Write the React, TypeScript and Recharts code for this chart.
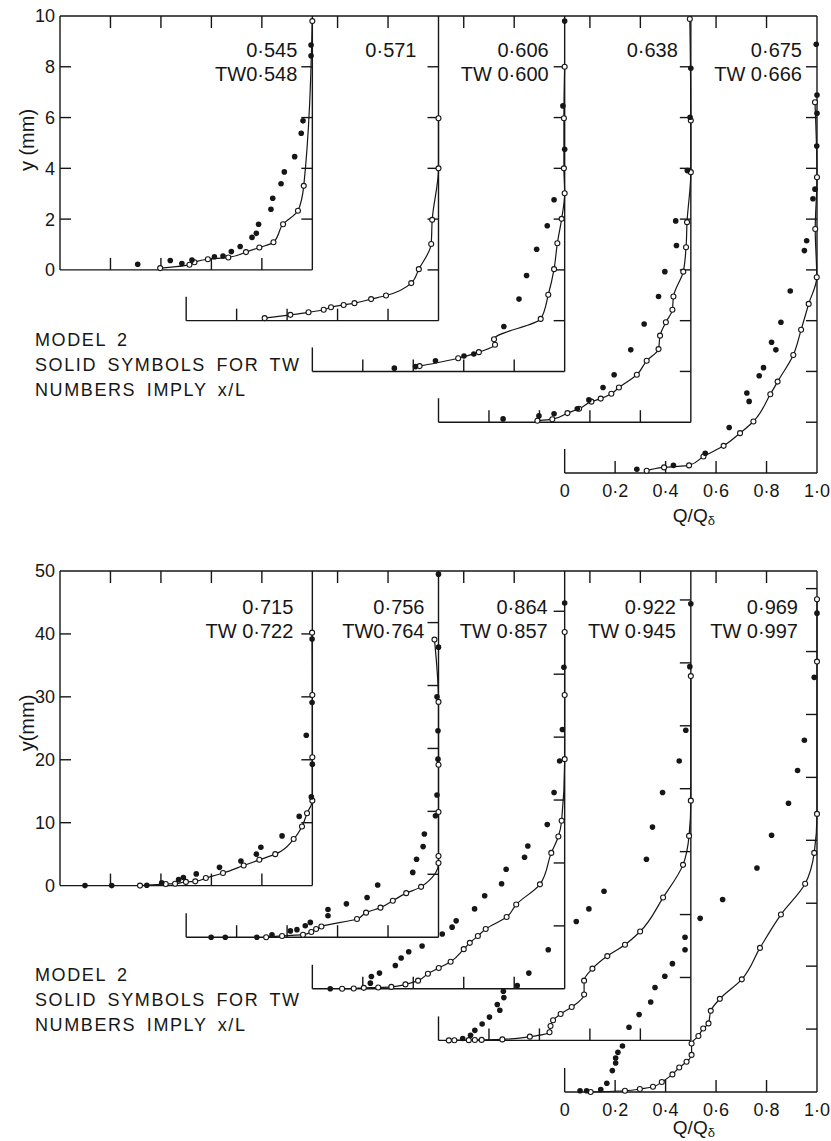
import React from "react"
import { ScatterChart, Scatter, XAxis, YAxis, ReferenceLine, ReferenceDot } from "recharts"

type Pt = [number, number]

// Q/Qδ axis
const qTicks = [0, 0.2, 0.4, 0.6, 0.8, 1.0]
const qLabels = ["0", "0·2", "0·4", "0·6", "0·8", "1·0"]

// upper figure (y in mm), one pair of arrays per profile: [Q/Qδ, y]
const topYTicks = [0, 2, 4, 6, 8, 10]
const topXL = ["0·545", "0·571", "0·606", "0·638", "0·675"]
const topTW = ["TW0·548", "", "TW 0·600", "", "TW 0·666"]

const t1Open: Pt[] = [[0.397, 0.07], [0.513, 0.2], [0.533, 0.3], [0.586, 0.42], [0.667, 0.49], [0.737, 0.7], [0.79, 0.88], [0.846, 1.09], [0.884, 1.8], [0.943, 2.33], [0.966, 3.31], [1.0, 9.8]]
const t1Solid: Pt[] = [[0.308, 0.22], [0.437, 0.37], [0.483, 0.25], [0.523, 0.39], [0.612, 0.52], [0.646, 0.55], [0.679, 0.72], [0.714, 0.92], [0.761, 1.28], [0.778, 1.44], [0.787, 1.8], [0.836, 2.39], [0.843, 2.82], [0.876, 3.39], [0.889, 3.86], [0.93, 4.46], [0.956, 5.38], [0.963, 5.87], [0.995, 8.43], [0.995, 8.86]]
const t2Open: Pt[] = [[0.311, 0.1], [0.413, 0.23], [0.485, 0.33], [0.545, 0.43], [0.574, 0.53], [0.624, 0.62], [0.667, 0.69], [0.733, 0.85], [0.792, 0.99], [0.892, 1.48], [0.922, 2.03], [0.971, 3.02], [0.975, 3.97], [1.0, 6.0], [1.0, 7.97]]
const t2Solid: Pt[] = []
const t3Open: Pt[] = [[0.425, 0.21], [0.578, 0.52], [0.66, 0.76], [0.724, 1.05], [0.72, 1.27], [0.905, 2.07], [0.935, 3.02], [0.958, 4.03], [0.971, 5.05], [0.988, 6.01], [1.0, 7.02], [0.997, 8.0], [0.997, 9.97], [1.0, 12.0]]
const t3Solid: Pt[] = [[0.325, 0.13], [0.409, 0.19], [0.488, 0.42], [0.601, 0.61], [0.64, 0.69], [0.759, 1.77], [0.819, 2.85], [0.849, 3.78], [0.889, 4.81], [0.931, 5.74], [0.958, 6.76], [1.0, 8.75], [0.993, 10.46], [1.0, 13.8]]
const t4Open: Pt[] = [[0.392, 0.06], [0.451, 0.12], [0.511, 0.36], [0.557, 0.53], [0.606, 0.81], [0.643, 0.93], [0.685, 1.12], [0.715, 1.37], [0.786, 1.87], [0.825, 2.42], [0.872, 2.88], [0.878, 3.41], [0.901, 3.94], [0.927, 4.43], [0.931, 4.95], [0.97, 5.93], [0.981, 6.89], [0.985, 7.88], [1.0, 9.85], [1.0, 11.88], [0.996, 15.88]]
const t4Solid: Pt[] = [[0.256, 0.13], [0.398, 0.25], [0.458, 0.33], [0.55, 0.53], [0.596, 0.88], [0.652, 1.37], [0.696, 1.87], [0.762, 2.85], [0.815, 3.87], [0.872, 4.95], [0.897, 5.93], [0.943, 6.96], [0.94, 7.93], [0.986, 9.91], [0.997, 12.01], [1.0, 13.94]]
const t5Open: Pt[] = [[0.325, 0.09], [0.394, 0.22], [0.493, 0.3], [0.55, 0.65], [0.63, 1.07], [0.695, 1.57], [0.748, 2.03], [0.815, 3.1], [0.844, 3.6], [0.906, 4.65], [0.937, 5.64], [0.967, 6.66], [0.999, 7.71], [0.993, 9.61], [1.0, 11.65], [0.992, 14.6]]
const t5Solid: Pt[] = [[0.286, 0.15], [0.431, 0.3], [0.557, 0.78], [0.652, 1.79], [0.731, 2.82], [0.722, 3.15], [0.771, 3.83], [0.788, 4.15], [0.837, 4.85], [0.82, 5.15], [0.857, 5.94], [0.894, 7.17], [0.95, 8.76], [0.959, 9.15], [0.984, 10.8], [0.992, 11.18], [0.999, 12.88], [1.0, 14.17], [1.0, 14.89], [0.997, 16.89]]

// lower figure
const botYTicks = [0, 10, 20, 30, 40, 50]
const botXL = ["0·715", "0·756", "0·864", "0·922", "0·969"]
const botTW = ["TW 0·722", "TW0·764", "TW 0·857", "TW 0·945", "TW 0·997"]

const b1Open: Pt[] = [[0.317, 0], [0.419, 0.25], [0.456, 0.3], [0.499, 0.59], [0.536, 0.68], [0.578, 1.2], [0.646, 2.0], [0.728, 3.2], [0.79, 4.1], [0.853, 5.0], [0.926, 7.4], [0.959, 9.4], [0.979, 11.5], [1.0, 13.5], [1.0, 20.4], [1.0, 30.3], [0.999, 40.2]]
const b1Solid: Pt[] = [[0.099, 0], [0.205, 0], [0.344, 0.05], [0.403, 0.43], [0.47, 0.95], [0.489, 1.3], [0.54, 1.86], [0.632, 2.9], [0.717, 3.9], [0.778, 5.0], [0.796, 6.1], [0.88, 7.9], [0.948, 11.0], [0.996, 14.1], [1.0, 19.3], [0.976, 23.9], [0.999, 29.1], [0.999, 39.2]]
const b2Open: Pt[] = [[0.317, 0], [0.38, 0.2], [0.463, 0.4], [0.496, 0.83], [0.515, 1.3], [0.536, 1.7], [0.677, 2.9], [0.713, 3.9], [0.77, 4.7], [0.819, 5.8], [0.872, 7.0], [0.931, 8.0], [1.0, 11.8], [1.0, 12.9], [1.0, 19.9], [1.0, 27.4], [1.0, 37.4], [0.984, 47.3]]
const b2Solid: Pt[] = [[0.099, 0], [0.155, 0], [0.28, 0], [0.34, 0.4], [0.413, 1.0], [0.439, 1.2], [0.472, 1.83], [0.492, 2.35], [0.562, 3.4], [0.562, 4.4], [0.635, 5.3], [0.717, 6.3], [0.759, 8.3], [0.898, 10.3], [0.913, 12.4], [0.939, 14.4], [0.944, 16.4], [0.988, 19.3], [0.994, 22.6], [0.998, 28.3], [0.998, 32.8], [0.994, 38.2], [1.0, 46.1], [1.0, 57.7]]
const b3Open: Pt[] = [[0.118, 0], [0.164, 0.05], [0.204, 0.15], [0.261, 0.2], [0.313, 0.3], [0.369, 0.7], [0.419, 1.3], [0.458, 2.4], [0.501, 3.3], [0.548, 4.3], [0.6, 6.3], [0.624, 7.3], [0.656, 8.4], [0.687, 9.5], [0.77, 11.4], [0.808, 13.4], [0.902, 16.6], [0.947, 21.6], [0.975, 24.2], [0.988, 26.7], [1.0, 36.5], [1.0, 46.7], [1.0, 56.7]]
const b3Solid: Pt[] = [[0.071, 0], [0.23, 0.9], [0.234, 1.95], [0.266, 2.5], [0.329, 3.7], [0.352, 4.9], [0.382, 5.9], [0.435, 6.8], [0.515, 8.7], [0.554, 9.8], [0.57, 10.8], [0.643, 12.7], [0.683, 14.8], [0.75, 16.7], [0.768, 19.0], [0.841, 20.9], [0.854, 22.7], [0.931, 26.1], [0.958, 31.2], [0.98, 36.2], [0.991, 41.2], [0.997, 51.1], [1.0, 61.3]]
const b4Open: Pt[] = [[0.041, 0], [0.063, 0.02], [0.12, 0.04], [0.144, 0.06], [0.171, 0.08], [0.253, 0.16], [0.362, 0.6], [0.44, 1.3], [0.444, 2.3], [0.454, 3.2], [0.484, 4.2], [0.528, 5.3], [0.577, 7.3], [0.577, 9.5], [0.61, 11.4], [0.669, 13.4], [0.739, 15.2], [0.799, 17.3], [0.89, 22.7], [0.969, 27.9], [0.993, 32.5], [1.0, 38.1], [1.0, 57.9]]
const b4Solid: Pt[] = [[0.096, 0.3], [0.127, 0.8], [0.144, 1.6], [0.173, 2.6], [0.202, 3.7], [0.243, 4.8], [0.233, 5.7], [0.259, 6.8], [0.257, 7.8], [0.312, 8.7], [0.358, 10.7], [0.435, 14.4], [0.546, 18.9], [0.596, 20.9], [0.656, 23.7], [0.824, 28.8], [0.848, 33.9], [0.888, 39.4], [0.954, 44.4], [0.98, 49.3], [0.996, 59.4], [1.0, 69.4]]
const b5Open: Pt[] = [[0.103, 0], [0.239, 0.2], [0.298, 0.48], [0.35, 0.84], [0.385, 1.6], [0.427, 2.8], [0.454, 3.9], [0.483, 4.8], [0.503, 5.9], [0.503, 7.7], [0.53, 8.9], [0.549, 10.1], [0.57, 10.9], [0.579, 12.9], [0.615, 14.8], [0.702, 17.9], [0.774, 22.9], [0.857, 28.2], [0.953, 33.1], [0.989, 38.0], [1.0, 44.2], [1.0, 68.4], [1.0, 78.3]]
const b5Solid: Pt[] = [[0.061, 0.2], [0.087, 0.2], [0.143, 0.4], [0.167, 1.4], [0.189, 3.4], [0.202, 4.6], [0.202, 5.4], [0.211, 6.3], [0.229, 7.3], [0.255, 10.3], [0.295, 12.3], [0.341, 14.3], [0.358, 16.6], [0.397, 18.4], [0.427, 20.4], [0.477, 22.6], [0.477, 24.6], [0.537, 27.6], [0.626, 30.6], [0.762, 35.6], [0.82, 40.8], [0.887, 45.9], [0.923, 51.1], [0.95, 55.9], [0.989, 65.9], [1.0, 76.1]]

const INK = "#161616"
const FONT = '"Liberation Sans", Arial, sans-serif'
const PX_X = 757 / 3 // px per unit of Q/Qδ

type PanelCfg = {
  yTop: number
  shift: number // downward shift of each profile, in mm
  step: number
  pxY: number
  yTicks: number[]
  open: Pt[][]
  solid: Pt[][]
  xl: string[]
  tw: string[]
  gaps: number[]
  lblDy: [number, number]
  yLabel: string
  yLabelDy: number
  modelDy: number
  qDy: number
}

const topCfg: PanelCfg = {
  yTop: 10, shift: 2, step: 2, pxY: 457 / 18, yTicks: topYTicks,
  open: [t1Open, t2Open, t3Open, t4Open, t5Open],
  solid: [t1Solid, t2Solid, t3Solid, t4Solid, t5Solid],
  xl: topXL, tw: topTW, gaps: [15, 22, 16, 13, 15], lblDy: [41, 65],
  yLabel: "y (mm)", yLabelDy: 124, modelDy: 76, qDy: 49,
}

const botCfg: PanelCfg = {
  yTop: 50, shift: 8.2, step: 10, pxY: 521 / 82.8, yTicks: botYTicks,
  open: [b1Open, b2Open, b3Open, b4Open, b5Open],
  solid: [b1Solid, b2Solid, b3Solid, b4Solid, b5Solid],
  xl: botXL, tw: botTW, gaps: [19, 14, 17, 15, 19], lblDy: [43, 67],
  yLabel: "y(mm)", yLabelDy: 152, modelDy: 95, qDy: 42,
}

const toXY = (pts: Pt[], k: number, shift: number) =>
  pts.map(([q, y]) => ({ x: q + 0.5 * k, y: y - shift * k }))

// smooth curve where the profile rises steadily, straight joins otherwise
const jointFor = (pts: Pt[]) =>
  pts.every((p, i) => i === 0 || p[1] > pts[i - 1][1]) ? "monotoneY" : "linear"

const OpenDot = (p: any) => <circle cx={p.cx} cy={p.cy} r={2.5} fill="#fff" stroke={INK} strokeWidth={1.1} />
const SolidDot = (p: any) => <circle cx={p.cx} cy={p.cy} r={2.8} fill={INK} />

function seg(key: string, x1: number, y1: number, x2: number, y2: number) {
  return (
    <ReferenceLine
      key={key}
      segment={[{ x: x1, y: y1 }, { x: x2, y: y2 }]}
      stroke={INK}
      strokeWidth={1.4}
      ifOverflow="visible"
    />
  )
}

function note(key: string, x: number, y: number, draw: (cx: number, cy: number) => React.ReactElement) {
  return <ReferenceDot key={key} x={x} y={y} r={0} ifOverflow="visible" shape={(p: any) => draw(p.cx, p.cy)} />
}

function frame(c: PanelCfg) {
  const out: React.ReactElement[] = []
  const tx = 11 / PX_X
  const ty = 12 / c.pxY
  out.push(seg("top", 0, c.yTop, 3, c.yTop))
  out.push(seg("yaxis", 0, 0, 0, c.yTop))
  for (let v = c.step; v < c.yTop; v += c.step) out.push(seg(`ly${v}`, 0, v, tx, v))
  for (let k = 0; k < 5; k++) {
    const dx = 0.5 * k
    const base = -c.shift * k
    out.push(seg(`b${k}`, dx, base, dx + 1, base))
    out.push(seg(`r${k}`, dx + 1, base, dx + 1, c.yTop))
    if (k > 0) out.push(seg(`l${k}`, dx, base, dx, base + 24 / c.pxY))
    qTicks.slice(1, 5).forEach((q) => {
      out.push(seg(`bt${k}-${q}`, dx + q, base, dx + q, base + ty))
      if (k === 0 || q > 0.5) out.push(seg(`tt${k}-${q}`, dx + q, c.yTop, dx + q, c.yTop - ty))
    })
    for (let v = c.step; base + v < c.yTop - 1e-6; v += c.step) {
      out.push(seg(`rt${k}-${v}`, dx + 1 - tx, base + v, dx + 1, base + v))
    }
  }
  return out
}

function labels(c: PanelCfg) {
  const out: React.ReactElement[] = []
  const txt = { fill: INK, fontFamily: FONT, fontSize: 20 }
  for (let k = 0; k < 5; k++) {
    const gap = c.gaps[k]
    out.push(note(`xl${k}`, 0.5 * k + 1, c.yTop, (cx, cy) => (
      <text x={cx - gap} y={cy + c.lblDy[0]} textAnchor="end" {...txt}>{c.xl[k]}</text>
    )))
    if (c.tw[k]) {
      out.push(note(`tw${k}`, 0.5 * k + 1, c.yTop, (cx, cy) => (
        <text x={cx - gap} y={cy + c.lblDy[1]} textAnchor="end" {...txt}>{c.tw[k]}</text>
      )))
    }
  }
  out.push(note("ylab", 0, c.yTop, (cx, cy) => (
    <text x={cx - 33} y={cy + c.yLabelDy} transform={`rotate(-90 ${cx - 33} ${cy + c.yLabelDy})`}
      textAnchor="middle" dominantBaseline="central" {...txt}>{c.yLabel}</text>
  )))
  out.push(note("model", 0, 0, (cx, cy) => (
    <text x={cx - 25} y={cy + c.modelDy} fill={INK} fontFamily={FONT} fontSize={18} letterSpacing={1.6} wordSpacing={4}>
      <tspan x={cx - 25} dy={0}>MODEL 2</tspan>
      <tspan x={cx - 25} dy={25}>SOLID SYMBOLS FOR TW</tspan>
      <tspan x={cx - 25} dy={25}>NUMBERS IMPLY x/L</tspan>
    </text>
  )))
  out.push(note("qlab", 2.5, -c.shift * 4, (cx, cy) => (
    <text x={cx - 18} y={cy + c.qDy} {...txt} fontSize={19}>
      Q/Q<tspan fontSize={13} dy={3}>δ</tspan>
    </text>
  )))
  return out
}

function Panel({ c, top, height, mTop, mBottom }: { c: PanelCfg; top: number; height: number; mTop: number; mBottom: number }) {
  return (
    <div style={{ position: "absolute", left: 0, top }}>
      <ScatterChart width={831} height={height} margin={{ top: mTop, right: 14, bottom: mBottom, left: 0 }}>
        <XAxis
          type="number"
          dataKey="x"
          domain={[0, 3]}
          ticks={qTicks.map((q) => q + 2)}
          tickFormatter={(v: number) => qLabels[Math.round((v - 2) * 5)]}
          interval={0}
          axisLine={false}
          tickLine={false}
          tickSize={0}
          tickMargin={11}
          height={30}
          tick={{ fill: INK, fontSize: 18, fontFamily: FONT }}
        />
        <YAxis
          type="number"
          dataKey="y"
          domain={[-c.shift * 4, c.yTop]}
          ticks={c.yTicks}
          interval={0}
          axisLine={false}
          tickLine={false}
          tickSize={0}
          tickMargin={5}
          width={60}
          tick={{ fill: INK, fontSize: 18, fontFamily: FONT }}
        />
        {frame(c)}
        {labels(c)}
        {c.open.map((pts, k) => (
          <Scatter
            key={`o${k}`}
            data={toXY(pts, k, c.shift)}
            shape={OpenDot}
            line={{ stroke: INK, strokeWidth: 1.2 }}
            lineType="joint"
            lineJointType={jointFor(pts)}
            isAnimationActive={false}
          />
        ))}
        {c.solid.map((pts, k) => (
          <Scatter key={`s${k}`} data={toXY(pts, k, c.shift)} shape={SolidDot} isAnimationActive={false} />
        ))}
      </ScatterChart>
    </div>
  )
}

export default function App() {
  return (
    <div style={{ position: "absolute", left: 0, top: 0, width: 831, height: 1141, background: "#fff" }}>
      <Panel c={topCfg} top={0} height={545} mTop={16} mBottom={42} />
      <Panel c={botCfg} top={545} height={596} mTop={26} mBottom={19} />
    </div>
  )
}
